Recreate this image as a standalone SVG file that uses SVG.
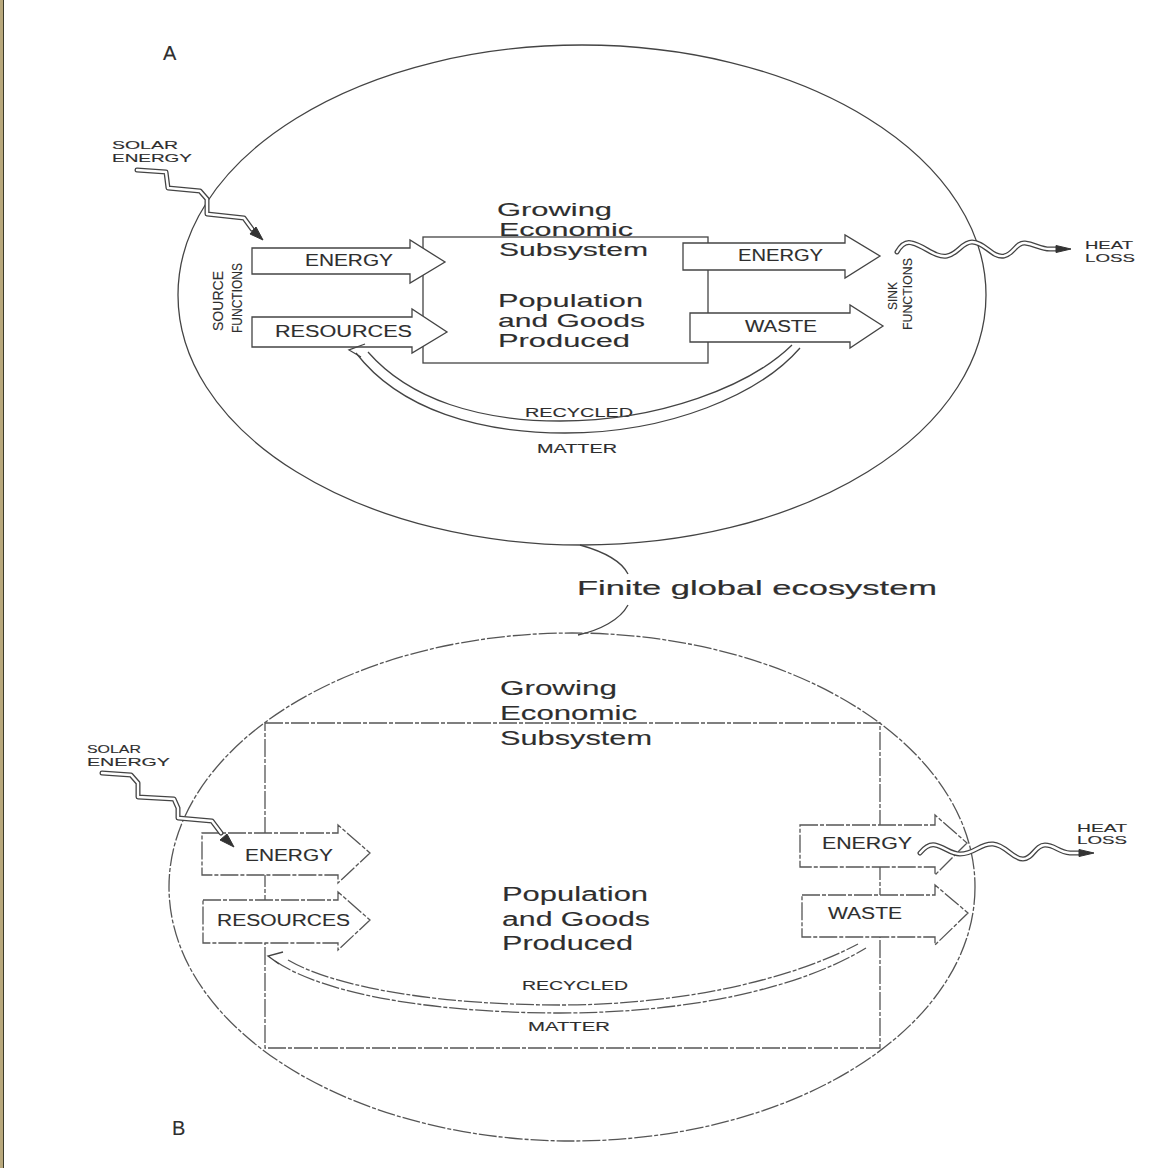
<svg xmlns="http://www.w3.org/2000/svg" width="1163" height="1168" viewBox="0 0 1163 1168">
<style>
  .t { font-family: "Liberation Sans", Arial, sans-serif; fill: #2e2e2e; stroke: #2e2e2e; stroke-width: 0.12; }
  .big { font-size: 20px; }
  .mid { font-size: 18px; }
  .lbl { font-size: 16px; }
  .rot { font-size: 15px; }
  .sm { font-size: 13px; }
  .xs { font-size: 11px; }
  .xxs { font-size: 10.5px; }
  .ln { fill: none; stroke: #444; stroke-width: 1.3; }
  .lnb { fill: none; stroke: #555; stroke-width: 1.3; stroke-dasharray: 18 2 4 2; }
  .arw { fill: #fff; stroke: #444; stroke-width: 1.3; stroke-linejoin: miter; }
  .arwb { fill: #fff; stroke: #555; stroke-width: 1.3; stroke-dasharray: 18 2 4 2; }
  .dbl-o { fill: none; stroke: #444; stroke-width: 5; stroke-linejoin: round; stroke-linecap: round; }
  .dbl-i { fill: none; stroke: #fff; stroke-width: 2.4; stroke-linejoin: round; stroke-linecap: round; }
  .head { fill: #333; stroke: #333; stroke-width: 1; }
</style>
<rect x="0" y="0" width="1163" height="1168" fill="#fff"/>
<rect x="0" y="0" width="3" height="1168" fill="#b8a87c"/>
<line x1="3.5" y1="0" x2="3.5" y2="1168" stroke="#3a3a2a" stroke-width="1"/>

<!-- ===== Diagram A ===== -->
<g id="ecosystem-a">
  <ellipse class="ln" cx="582" cy="295" rx="404" ry="250"/>
  <text class="t big" x="163" y="60">A</text>
</g>
<g id="subsystem-a">
  <rect class="ln" x="423" y="237" width="285" height="126"/>
  <text class="t mid" x="497" y="216" textLength="115" lengthAdjust="spacingAndGlyphs">Growing</text>
  <text class="t mid" x="499" y="236" textLength="134" lengthAdjust="spacingAndGlyphs">Economic</text>
  <text class="t mid" x="499" y="256" textLength="149" lengthAdjust="spacingAndGlyphs">Subsystem</text>
  <text class="t mid" x="498" y="307" textLength="145" lengthAdjust="spacingAndGlyphs">Population</text>
  <text class="t mid" x="498" y="327" textLength="147" lengthAdjust="spacingAndGlyphs">and Goods</text>
  <text class="t mid" x="498" y="347" textLength="132" lengthAdjust="spacingAndGlyphs">Produced</text>
</g>
<g id="solar-a">
  <text class="t xs" x="112" y="149" textLength="66" lengthAdjust="spacingAndGlyphs">SOLAR</text>
  <text class="t xs" x="112" y="162" textLength="80" lengthAdjust="spacingAndGlyphs">ENERGY</text>
</g>
<g id="source-functions-a">
  <text class="t rot" text-anchor="middle" transform="translate(223,301) rotate(-90)" textLength="60" lengthAdjust="spacingAndGlyphs">SOURCE</text>
  <text class="t rot" text-anchor="middle" transform="translate(242,298) rotate(-90)" textLength="70" lengthAdjust="spacingAndGlyphs">FUNCTIONS</text>
</g>
<g id="energy-in-a">
  <polygon class="arw" points="252,248 410,248 410,240 445,262 410,283 410,274 252,274"/>
  <text class="t lbl" x="305" y="266" textLength="88" lengthAdjust="spacingAndGlyphs">ENERGY</text>
</g>
<g id="resources-a">
  <polygon class="arw" points="252,317 412,317 412,309 447,332 412,353 412,347 252,347"/>
  <text class="t lbl" x="275" y="337" textLength="137" lengthAdjust="spacingAndGlyphs">RESOURCES</text>
</g>
<g id="energy-out-a">
  <polygon class="arw" points="683,243 845,243 845,235 880,256 845,278 845,270 683,270"/>
  <text class="t lbl" x="738" y="261" textLength="85" lengthAdjust="spacingAndGlyphs">ENERGY</text>
</g>
<g id="waste-a">
  <polygon class="arw" points="690,313 850,313 850,305 883,326 850,348 850,342 690,342"/>
  <text class="t lbl" x="745" y="332" textLength="72" lengthAdjust="spacingAndGlyphs">WASTE</text>
</g>
<g id="sink-functions-a">
  <text class="t sm" text-anchor="middle" transform="translate(897,296) rotate(-90)" textLength="28" lengthAdjust="spacingAndGlyphs">SINK</text>
  <text class="t sm" text-anchor="middle" transform="translate(912,294) rotate(-90)" textLength="72" lengthAdjust="spacingAndGlyphs">FUNCTIONS</text>
</g>
<g id="heat-loss-a">
  <text class="t xs" x="1085" y="249" textLength="48" lengthAdjust="spacingAndGlyphs">HEAT</text>
  <text class="t xs" x="1085" y="262" textLength="50" lengthAdjust="spacingAndGlyphs">LOSS</text>
</g>
<g id="recycled-label-a">
  <text class="t sm" x="525" y="417" textLength="108" lengthAdjust="spacingAndGlyphs">RECYCLED</text>
  <text class="t sm" x="537" y="453" textLength="80" lengthAdjust="spacingAndGlyphs">MATTER</text>
</g>

<!-- ===== Diagram B ===== -->
<g id="ecosystem-b">
  <ellipse class="lnb" cx="572" cy="887" rx="403" ry="254"/>
  <text class="t big" x="172" y="1135">B</text>
</g>
<g id="subsystem-b">
  <rect class="lnb" x="265" y="723" width="615" height="325"/>
  <text class="t big" x="500" y="695" textLength="117" lengthAdjust="spacingAndGlyphs">Growing</text>
  <text class="t big" x="500" y="720" textLength="137" lengthAdjust="spacingAndGlyphs">Economic</text>
  <text class="t big" x="500" y="745" textLength="152" lengthAdjust="spacingAndGlyphs">Subsystem</text>
  <text class="t big" x="502" y="901" textLength="146" lengthAdjust="spacingAndGlyphs">Population</text>
  <text class="t big" x="502" y="926" textLength="148" lengthAdjust="spacingAndGlyphs">and Goods</text>
  <text class="t big" x="502" y="950" textLength="131" lengthAdjust="spacingAndGlyphs">Produced</text>
</g>
<g id="solar-b">
  <text class="t xs" x="87" y="753" textLength="54" lengthAdjust="spacingAndGlyphs">SOLAR</text>
  <text class="t xs" x="87" y="766" textLength="83" lengthAdjust="spacingAndGlyphs">ENERGY</text>
</g>
<g id="energy-in-b">
  <polygon class="arwb" points="202,833 338,833 338,825 370,853 338,883 338,875 202,875"/>
  <text class="t lbl" x="245" y="861" textLength="88" lengthAdjust="spacingAndGlyphs">ENERGY</text>
</g>
<g id="resources-b">
  <polygon class="arwb" points="203,900 338,900 338,892 370,920 338,950 338,943 203,943"/>
  <text class="t lbl" x="217" y="926" textLength="133" lengthAdjust="spacingAndGlyphs">RESOURCES</text>
</g>
<g id="energy-out-b">
  <polygon class="arwb" points="800,825 935,825 935,815 967,843 935,875 935,867 800,867"/>
  <text class="t lbl" x="822" y="849" textLength="90" lengthAdjust="spacingAndGlyphs">ENERGY</text>
</g>
<g id="waste-b">
  <polygon class="arwb" points="802,895 935,895 935,885 968,913 935,945 935,937 802,937"/>
  <text class="t lbl" x="828" y="919" textLength="74" lengthAdjust="spacingAndGlyphs">WASTE</text>
</g>
<g id="heat-loss-b">
  <text class="t xxs" x="1077" y="832" textLength="50" lengthAdjust="spacingAndGlyphs">HEAT</text>
  <text class="t xxs" x="1077" y="844" textLength="50" lengthAdjust="spacingAndGlyphs">LOSS</text>
</g>
<g id="recycled-label-b">
  <text class="t sm" x="522" y="990" textLength="106" lengthAdjust="spacingAndGlyphs">RECYCLED</text>
  <text class="t sm" x="528" y="1031" textLength="82" lengthAdjust="spacingAndGlyphs">MATTER</text>
</g>

<g id="finite-label">
  <text class="t" x="577" y="595" font-size="21" textLength="360" lengthAdjust="spacingAndGlyphs" style="stroke-width:0.2">Finite global ecosystem</text>
</g>

<!-- ===== Connectors ===== -->
<g id="connectors">
  <path class="ln" d="M580,545 C605,552 622,562 628,574"/>
  <path class="ln" d="M628,605 C620,620 600,630 578,635"/>

  <path class="dbl-o" d="M137,170 L166,172 L168,188 L200,191 L207,199 L207,214 L244,218 L252,229"/>
  <path class="dbl-i" d="M137,170 L166,172 L168,188 L200,191 L207,199 L207,214 L244,218 L252,229"/>
  <polygon class="head" points="263,240 250,234 256,227"/>

  <path class="dbl-o" d="M897,252 C901,245 906,241 912,243 C925,246 935,258 947,256 C958,254 962,242 972,242 C985,242 992,258 1004,256 C1014,254 1016,242 1025,243 C1035,244 1040,249 1050,249 L1058,249"/>
  <path class="dbl-i" d="M897,252 C901,245 906,241 912,243 C925,246 935,258 947,256 C958,254 962,242 972,242 C985,242 992,258 1004,256 C1014,254 1016,242 1025,243 C1035,244 1040,249 1050,249 L1058,249"/>
  <polygon class="head" points="1056,245.5 1071,249 1056,252.5"/>

  <path class="ln" d="M368,352 C410,400 480,421 560,421 C660,421 750,386 792,345"/>
  <path class="ln" d="M356,353 C400,410 480,433 565,433 C670,433 760,394 800,348"/>
  <polyline class="ln" points="365,344 349,350 361,357"/>

  <path class="dbl-o" d="M102,773 L131,775 L138,783 L138,797 L174,799 L178,808 L178,818 L212,821 L221,833"/>
  <path class="dbl-i" d="M102,773 L131,775 L138,783 L138,797 L174,799 L178,808 L178,818 L212,821 L221,833"/>
  <polygon class="head" points="234,847 220,840 227,834"/>

  <path class="dbl-o" d="M920,853 C925,847 930,844 935,845 C945,847 950,854 960,854 C975,854 980,843 993,844 C1006,845 1012,859 1023,859 C1033,859 1035,845 1045,845 C1055,845 1058,852 1070,853 L1080,853"/>
  <path class="dbl-i" d="M920,853 C925,847 930,844 935,845 C945,847 950,854 960,854 C975,854 980,843 993,844 C1006,845 1012,859 1023,859 C1033,859 1035,845 1045,845 C1055,845 1058,852 1070,853 L1080,853"/>
  <polygon class="head" points="1079,849.5 1094,853 1079,856.5"/>

  <path class="lnb" d="M288,960 C340,990 450,1005 560,1005 C680,1005 790,980 858,944"/>
  <path class="lnb" d="M275,961 C330,998 450,1013 560,1013 C690,1013 800,988 866,948"/>
  <polyline class="ln" points="283,952 268,956 279,964"/>
</g>
</svg>
